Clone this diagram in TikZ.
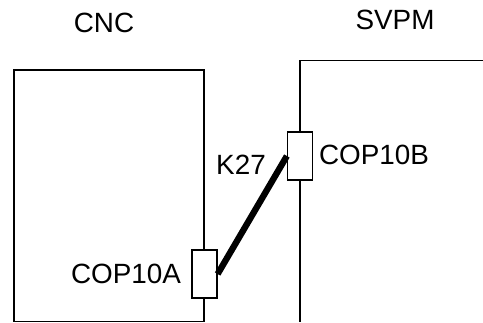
\documentclass[tikz,border=0pt]{standalone}
\usepackage{fontspec}
\setmainfont{Liberation Sans}
\usetikzlibrary{positioning}

\begin{document}
\begin{tikzpicture}[x=0.025cm,y=-0.025cm,
  font=\fontsize{19.8}{23}\selectfont,
  conn/.style={draw, fill=white, line width=0.9pt, inner sep=0pt,
    minimum width=0.625cm, minimum height=1.2cm}]

\useasboundingbox (0,0) rectangle (483,323);

% Moduli
\draw[line width=0.9pt] (14,70) rectangle (204,321.5);
\draw[line width=0.9pt] (300,321.5) -- (300,60.5) -- (483,60.5);

\node (cnc) at (104,23) {CNC};
\node (svpm) at (395,20) {SVPM};

% Connettori
\node[conn] (copA) at (204.5,274) {};
\node[conn] (copB) at (300,156) {};

\node (labA) at (126,274) {COP10A};
\node (labB) at (374,155) {COP10B};

% Cavo
\draw[line width=4.5pt] (copA.east) -- (copB.west);
\node (k27) at (241,165) {K27};
\end{tikzpicture}
\end{document}
